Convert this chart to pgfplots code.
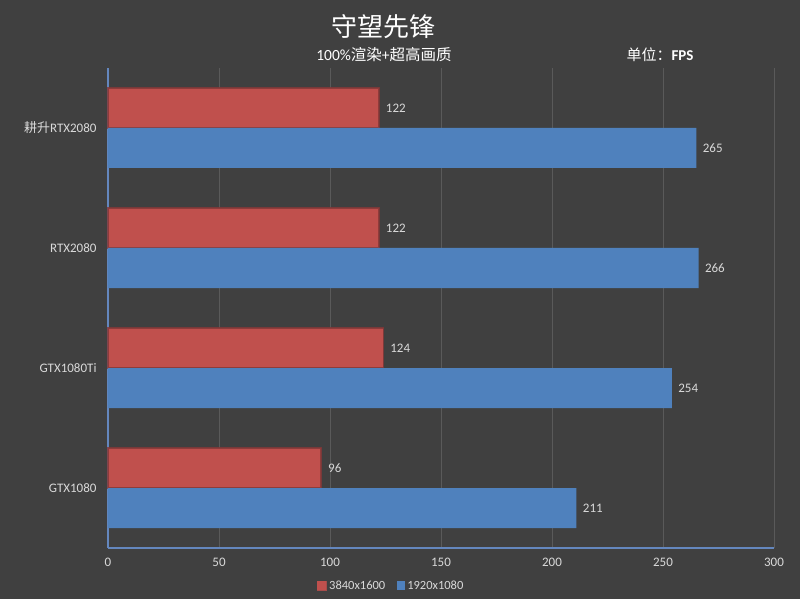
\documentclass[border=0pt]{standalone}
\usepackage{fontspec}
\setmainfont{Carlito}
\newfontfamily\cjk{Noto Sans CJK SC}
\usepackage{pgfplots}
\pgfplotsset{compat=1.18}

\definecolor{bg}{RGB}{64,64,64}
\definecolor{gridc}{RGB}{90,90,90}
\definecolor{axc}{RGB}{100,135,190}
\definecolor{txt}{RGB}{217,217,217}
\definecolor{redbar}{RGB}{192,80,77}
\definecolor{redglow}{RGB}{130,55,55}
\definecolor{bluebar}{RGB}{79,129,189}

\begin{document}
\begin{tikzpicture}
\fill[bg] (0,0) rectangle (800bp,599bp);

% titles
\node[text=white, font=\cjk\fontsize{26bp}{30bp}\selectfont] at (383bp,572bp) {守望先锋};
\node[text=white, font=\fontsize{15.5bp}{18bp}\selectfont] at (384bp,544bp) {100\%{\cjk 渲染}+{\cjk 超高画质}};
\node[text=white, font=\fontsize{15bp}{18bp}\selectfont] at (660bp,544bp) {{\cjk 单位：}\textbf{FPS}};

\begin{axis}[
    at={(108bp,51bp)}, anchor=south west,
    scale only axis,
    width=666bp, height=480bp,
    xbar, bar width=40bp, bar shift=0bp,
    xmin=0, xmax=300,
    ymin=-0.5, ymax=3.5,
    xtick={50,100,...,300},
    extra x ticks={0},
    extra x tick style={grid=none},
    ytick={0,1,2,3},
    yticklabels={GTX1080, GTX1080Ti, RTX2080, {{\cjk 耕升}RTX2080}},
    xmajorgrids,
    grid style={draw=gridc, line width=0.8bp},
    axis x line*=bottom, axis y line*=left,
    axis line style={-, draw=axc, line width=1.2bp},
    major tick length=0pt,
    tick label style={text=txt, font=\fontsize{13bp}{15bp}\selectfont},
    /pgf/number format/assume math mode=true,
    yticklabel style={xshift=-8bp},
    xticklabel style={yshift=-7bp},
    nodes near coords,
    nodes near coords style={text=txt, font=\fontsize{13bp}{15bp}\selectfont, anchor=west, xshift=3bp},
    legend columns=2,
    legend style={at={(0.425,-0.079)}, anchor=center, draw=none, fill=none,
        text=txt, font=\fontsize{12.5bp}{15bp}\selectfont,
        /tikz/every even column/.append style={column sep=10bp},
        inner sep=0pt},
    clip=false,
]
\addplot[fill=redbar, draw=redglow, draw opacity=0.8, line width=1.5bp,
    legend image code/.code={\fill[redbar] (0bp,-4.5bp) rectangle (9bp,4.5bp);}]
    coordinates {(96,0.1667) (124,1.1667) (122,2.1667) (122,3.1667)};
\addlegendentry{3840x1600}
\addplot[fill=bluebar, draw=none,
    legend image code/.code={\fill[bluebar] (0bp,-4.5bp) rectangle (8bp,4.5bp);}]
    coordinates {(211,-0.1667) (254,0.8333) (266,1.8333) (265,2.8333)};
\addlegendentry{1920x1080}
\end{axis}

\pgfresetboundingbox
\path[use as bounding box] (0,0) rectangle (800bp,599bp);
\end{tikzpicture}
\end{document}
